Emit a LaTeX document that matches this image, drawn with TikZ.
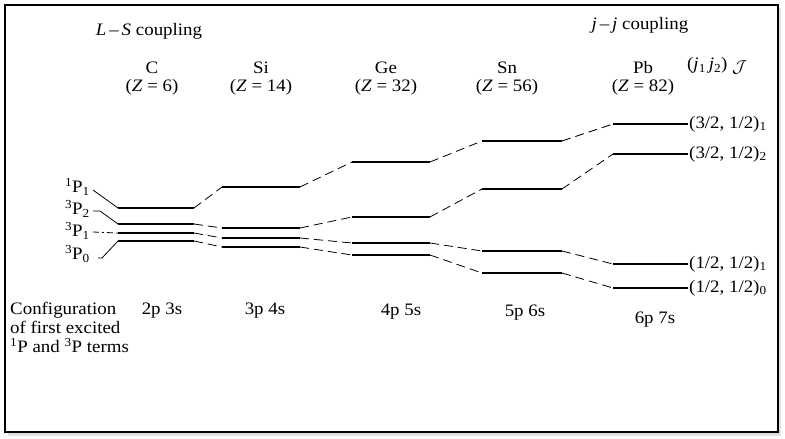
\documentclass[tikz,border=0pt]{standalone}
\usepackage{fontspec}
\setmainfont{Liberation Serif}[FakeStretch=1.08]
\usetikzlibrary{calc}
\begin{document}
\begin{tikzpicture}[x=1pt,y=-1pt,
  txt/.style={inner sep=0pt,font=\fontsize{17.5}{19}\selectfont},
  lvl/.style={line width=1.8pt},
  conn/.style={line width=0.8pt,dash pattern=on 9pt off 5pt},
  lab/.style={line width=0.8pt}]
\useasboundingbox (0,0) rectangle (785,439);
\fill[black!12] (8,8) rectangle (781,436);
\draw[line width=1.2pt,fill=white] (5,5) rectangle (778,432);
% headings
\node[txt] (ls) at (149,31) {\textit{L}\,–\,\textit{S} coupling};
\node[txt] (jj) at (640,25) {\textit{j}\,–\,\textit{j} coupling};
\foreach \n/\el/\z/\x in {c/C/6/152, si/Si/14/261, ge/Ge/32/386, sn/Sn/56/507, pb/Pb/82/643}{
  \node[txt] (\n name) at (\x,68) {\el};
  \node[txt] (\n z) at (\x,87) {(\textit{Z} = \z)};
}
\node[txt,anchor=west] (jjlab) at (687,66) {(\textit{j}\textsubscript{1}\,\textit{j}\textsubscript{2})\ \raisebox{-0.4ex}{$\mathcal{J}$}};
% left labels
\node[txt,anchor=east] (p11) at (90,187) {\textsuperscript{1}P\textsubscript{1}};
\node[txt,anchor=east] (p32) at (90,209) {\textsuperscript{3}P\textsubscript{2}};
\node[txt,anchor=east] (p31) at (90,231) {\textsuperscript{3}P\textsubscript{1}};
\node[txt,anchor=east] (p30) at (90,254) {\textsuperscript{3}P\textsubscript{0}};
% level coordinates
\foreach \n/\l/\r in {c/118/194, si/222/300, ge/352/430, sn/482/562, pb/613/688}{
  \coordinate (\n L) at (\l,0); \coordinate (\n R) at (\r,0);
}
\foreach \n/\a/\b/\c/\d in {c/208/224/233/241, si/187/228/238/247, ge/162/217/243/255, sn/141/189/251/273, pb/124/154/264/288}{
  \foreach \k/\y in {1/\a,2/\b,3/\c,4/\d}{
    \coordinate (\n\k L) at ($(\n L)+(0,\y)$);
    \coordinate (\n\k R) at ($(\n R)+(0,\y)$);
    \draw[lvl] (\n\k L) -- (\n\k R);
  }
}
% connectors between columns
\foreach \k in {1,2,3,4}{
  \draw[conn] (c\k R) -- (si\k L);
  \draw[conn] (si\k R) -- (ge\k L);
  \draw[conn] (ge\k R) -- (sn\k L);
  \draw[conn] (sn\k R) -- (pb\k L);
}
% left label lines
\draw[lab] (p11.east) ++(3,3) coordinate (a1) (a1) -- (c1L);
\draw[lab] (p32.east) ++(3,2) coordinate (a2) (a2) -- ++(7,0) -- (c2L);
\draw[lab,dash pattern=on 6pt off 3pt on 2pt off 3pt] (p31.east) ++(3,1) coordinate (a3) (a3) -- (c3L);
\draw[lab] (p30.east) ++(8,4) coordinate (a4) (a4) -- ++(4,0) -- (c4L);
% right labels
\node[txt,anchor=west] (r1) at (689,124) {(3/2, 1/2)\textsubscript{1}};
\node[txt,anchor=west] (r2) at (689,154) {(3/2, 1/2)\textsubscript{2}};
\node[txt,anchor=west] (r3) at (689,264) {(1/2, 1/2)\textsubscript{1}};
\node[txt,anchor=west] (r4) at (689,288) {(1/2, 1/2)\textsubscript{0}};
% configurations
\node[txt,anchor=north west,align=left] (conf) at (10,302) {Configuration\\of first excited\\\textsuperscript{1}P and \textsuperscript{3}P terms};
\node[txt] (k1) at (162,311) {2p 3s};
\node[txt] (k2) at (265,311) {3p 4s};
\node[txt] (k3) at (401,312) {4p 5s};
\node[txt] (k4) at (525,313) {5p 6s};
\node[txt] (k5) at (655,320) {6p 7s};
\end{tikzpicture}
\end{document}
